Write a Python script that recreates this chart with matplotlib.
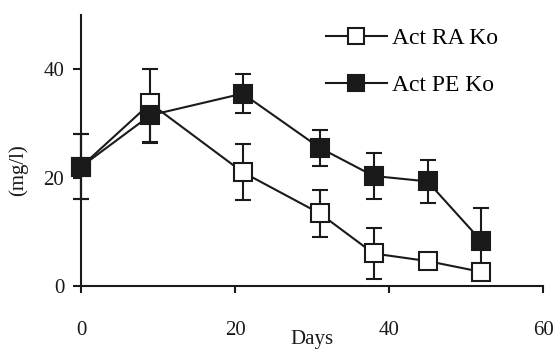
import matplotlib
matplotlib.use("Agg")
import matplotlib.pyplot as plt
from matplotlib.lines import Line2D

days_ra = [0, 9, 21, 31, 38, 45, 52]
ra_mean = [22, 33.7, 21, 13.4, 6, 4.6, 2.6]
ra_err_lo = [6, 7.4, 5.2, 4.4, 4.7, 0, 0]
ra_err_hi = [6, 6.3, 5.2, 4.4, 4.7, 0, 0]

days_pe = [0, 9, 21, 31, 38, 45, 52]
pe_mean = [22, 31.5, 35.5, 25.5, 20.3, 19.3, 8.3]
pe_err_lo = [6, 5, 3.6, 3.3, 4.2, 4, 6]
pe_err_hi = [6, 2.5, 3.6, 3.3, 4.2, 4, 6]

xticks = [0, 20, 40, 60]
yticks = [0, 20, 40]

plt.rcParams['font.family'] = ['Liberation Serif', 'DejaVu Serif']
fig = plt.figure(figsize=(5.56, 3.52), dpi=100)
ax = fig.add_axes([81/556, 1-286/352, 462/556, 271/352])

ms = 13.5
c = '#1a1a1a'
e1 = ax.errorbar(days_ra, ra_mean, yerr=[ra_err_lo, ra_err_hi], fmt='none', ecolor=c,
                 elinewidth=1.5, capsize=6, capthick=1.5, zorder=2)
e2 = ax.errorbar(days_pe, pe_mean, yerr=[pe_err_lo, pe_err_hi], fmt='none', ecolor=c,
                 elinewidth=1.5, capsize=6, capthick=1.5, zorder=2)
for e in (e1, e2):
    for art in e.lines[1] + e.lines[2]:
        art.set_clip_on(False)
ax.plot(days_ra, ra_mean, '-', color=c, lw=1.5, marker='s', ms=ms,
        mfc='white', mec=c, mew=1.5, zorder=3, clip_on=False)
ax.plot(days_pe, pe_mean, '-', color=c, lw=1.5, marker='s', ms=ms,
        mfc=c, mec=c, mew=1.5, zorder=4, clip_on=False)

ax.set_xlim(0, 60)
ax.set_ylim(0, 50)
ax.set_xticks(xticks)
ax.set_yticks(yticks)
for s in ['top', 'right']:
    ax.spines[s].set_visible(False)
for s in ['left', 'bottom']:
    ax.spines[s].set_linewidth(1.5)
    ax.spines[s].set_color(c)
ax.tick_params(axis='x', length=5, width=1.5, pad=20, labelsize=15, colors=c)
ax.tick_params(axis='y', length=6, width=1.5, pad=6, labelsize=15, colors=c)

ax.set_xlabel('Days', fontsize=15, color=c)
ax.xaxis.set_label_coords(0.5, -0.198)
ax.xaxis.label.set_va('center')
ax.set_ylabel('(mg/l)', fontsize=15, color=c)
ax.yaxis.set_label_coords(-0.136, 0.428)
ax.yaxis.label.set_va('center')

h1 = Line2D([], [], color=c, lw=1.5, marker='s', ms=12, mfc='white', mec=c, mew=1.5)
h2 = Line2D([], [], color=c, lw=1.5, marker='s', ms=12, mfc=c, mec=c, mew=1.5)
leg = ax.legend([h1, h2], ['Act RA Ko', 'Act PE Ko'], loc='upper left',
                bbox_to_anchor=(0.509, 0.987), frameon=False, fontsize=17,
                handlelength=2.6, handletextpad=0.2, labelspacing=1.06,
                borderaxespad=0)

fig.savefig('out.png', dpi=100)
